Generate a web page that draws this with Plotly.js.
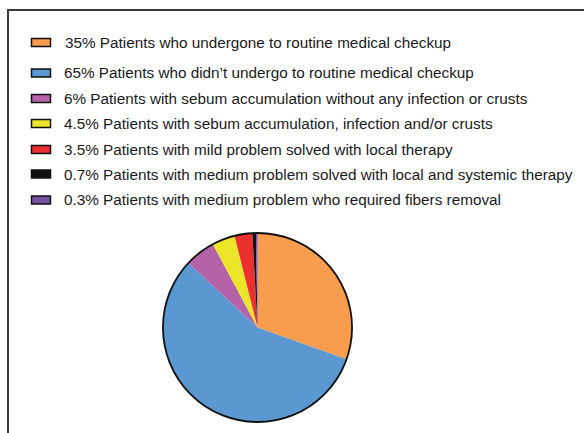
<!DOCTYPE html>
<html>
<head>
<meta charset="utf-8">
<script src="https://cdn.plot.ly/plotly-3.0.1.min.js"></script>
<style>html,body{margin:0;padding:0;background:#fff;}#chart{width:584px;height:433px;}</style>
</head>
<body>
<div id="chart"></div>
<script>
// Data
const labels = [
  "35% Patients who undergone to routine medical checkup",
  "65% Patients who didn\u2019t undergo to routine medical checkup",
  "6% Patients with sebum accumulation without any infection or crusts",
  "4.5% Patients with sebum accumulation, infection and/or crusts",
  "3.5% Patients with mild problem solved with local therapy",
  "0.7% Patients with medium problem solved with local and systemic therapy",
  "0.3% Patients with medium problem who required fibers removal"
];
const values = [35, 65, 6, 4.5, 3.5, 0.7, 0.3];
const colors = ["#F89D4D", "#5B97D1", "#B463A8", "#ECE62B", "#EC2F2F", "#111111", "#7350A0"];

// Layout helpers (pixel -> paper)
const W = 584, H = 433;
const px = x => x / W;
const py = y => 1 - y / H;
const rowY = [42.5, 73, 98.5, 123.5, 149.5, 174, 200];
const textX = [63, 61.5, 61.5, 61.5, 61.5, 61.5, 61.5];

const annotations = labels.map((t, i) => ({
  text: t, xref: 'paper', yref: 'paper', x: px(textX[i]), y: py(rowY[i]),
  xanchor: 'left', yanchor: 'middle', showarrow: false,
  font: {family: 'Liberation Sans, Arial, sans-serif', size: 15.3, color: '#1a1a1a'}
}));
const shapes = [{
  type: 'rect', xref: 'paper', yref: 'paper',
  x0: px(8), x1: px(W + 20), y0: py(H + 20), y1: py(10),
  line: {color: '#3a3a3a', width: 2}, fillcolor: 'rgba(0,0,0,0)'
}];
colors.forEach((c, i) => shapes.push({
  type: 'rect', xref: 'paper', yref: 'paper',
  x0: px(31.5), x1: px(50.5), y0: py(rowY[i] + 4), y1: py(rowY[i] - 4),
  line: {color: '#111', width: 1.5}, fillcolor: c
}));

const domain = {x: [px(163), px(352)], y: [py(422), py(233)]};
const traces = [
  {
    type: 'pie', labels: labels, values: values, sort: false, direction: 'clockwise', rotation: 0,
    marker: {colors: colors, line: {width: 0}}, textinfo: 'none', hoverinfo: 'label',
    domain: domain, showlegend: false
  },
  {
    type: 'pie', labels: ['outline'], values: [1], sort: false,
    marker: {colors: ['rgba(0,0,0,0)'], line: {color: '#111', width: 1.8}},
    textinfo: 'none', hoverinfo: 'skip', domain: domain, showlegend: false
  }
];

Plotly.newPlot('chart', traces, {
  width: W, height: H, margin: {l: 0, r: 0, t: 0, b: 0},
  paper_bgcolor: '#fff', plot_bgcolor: '#fff',
  showlegend: false, annotations: annotations, shapes: shapes
}, {displayModeBar: false, staticPlot: true});
</script>
</body>
</html>
